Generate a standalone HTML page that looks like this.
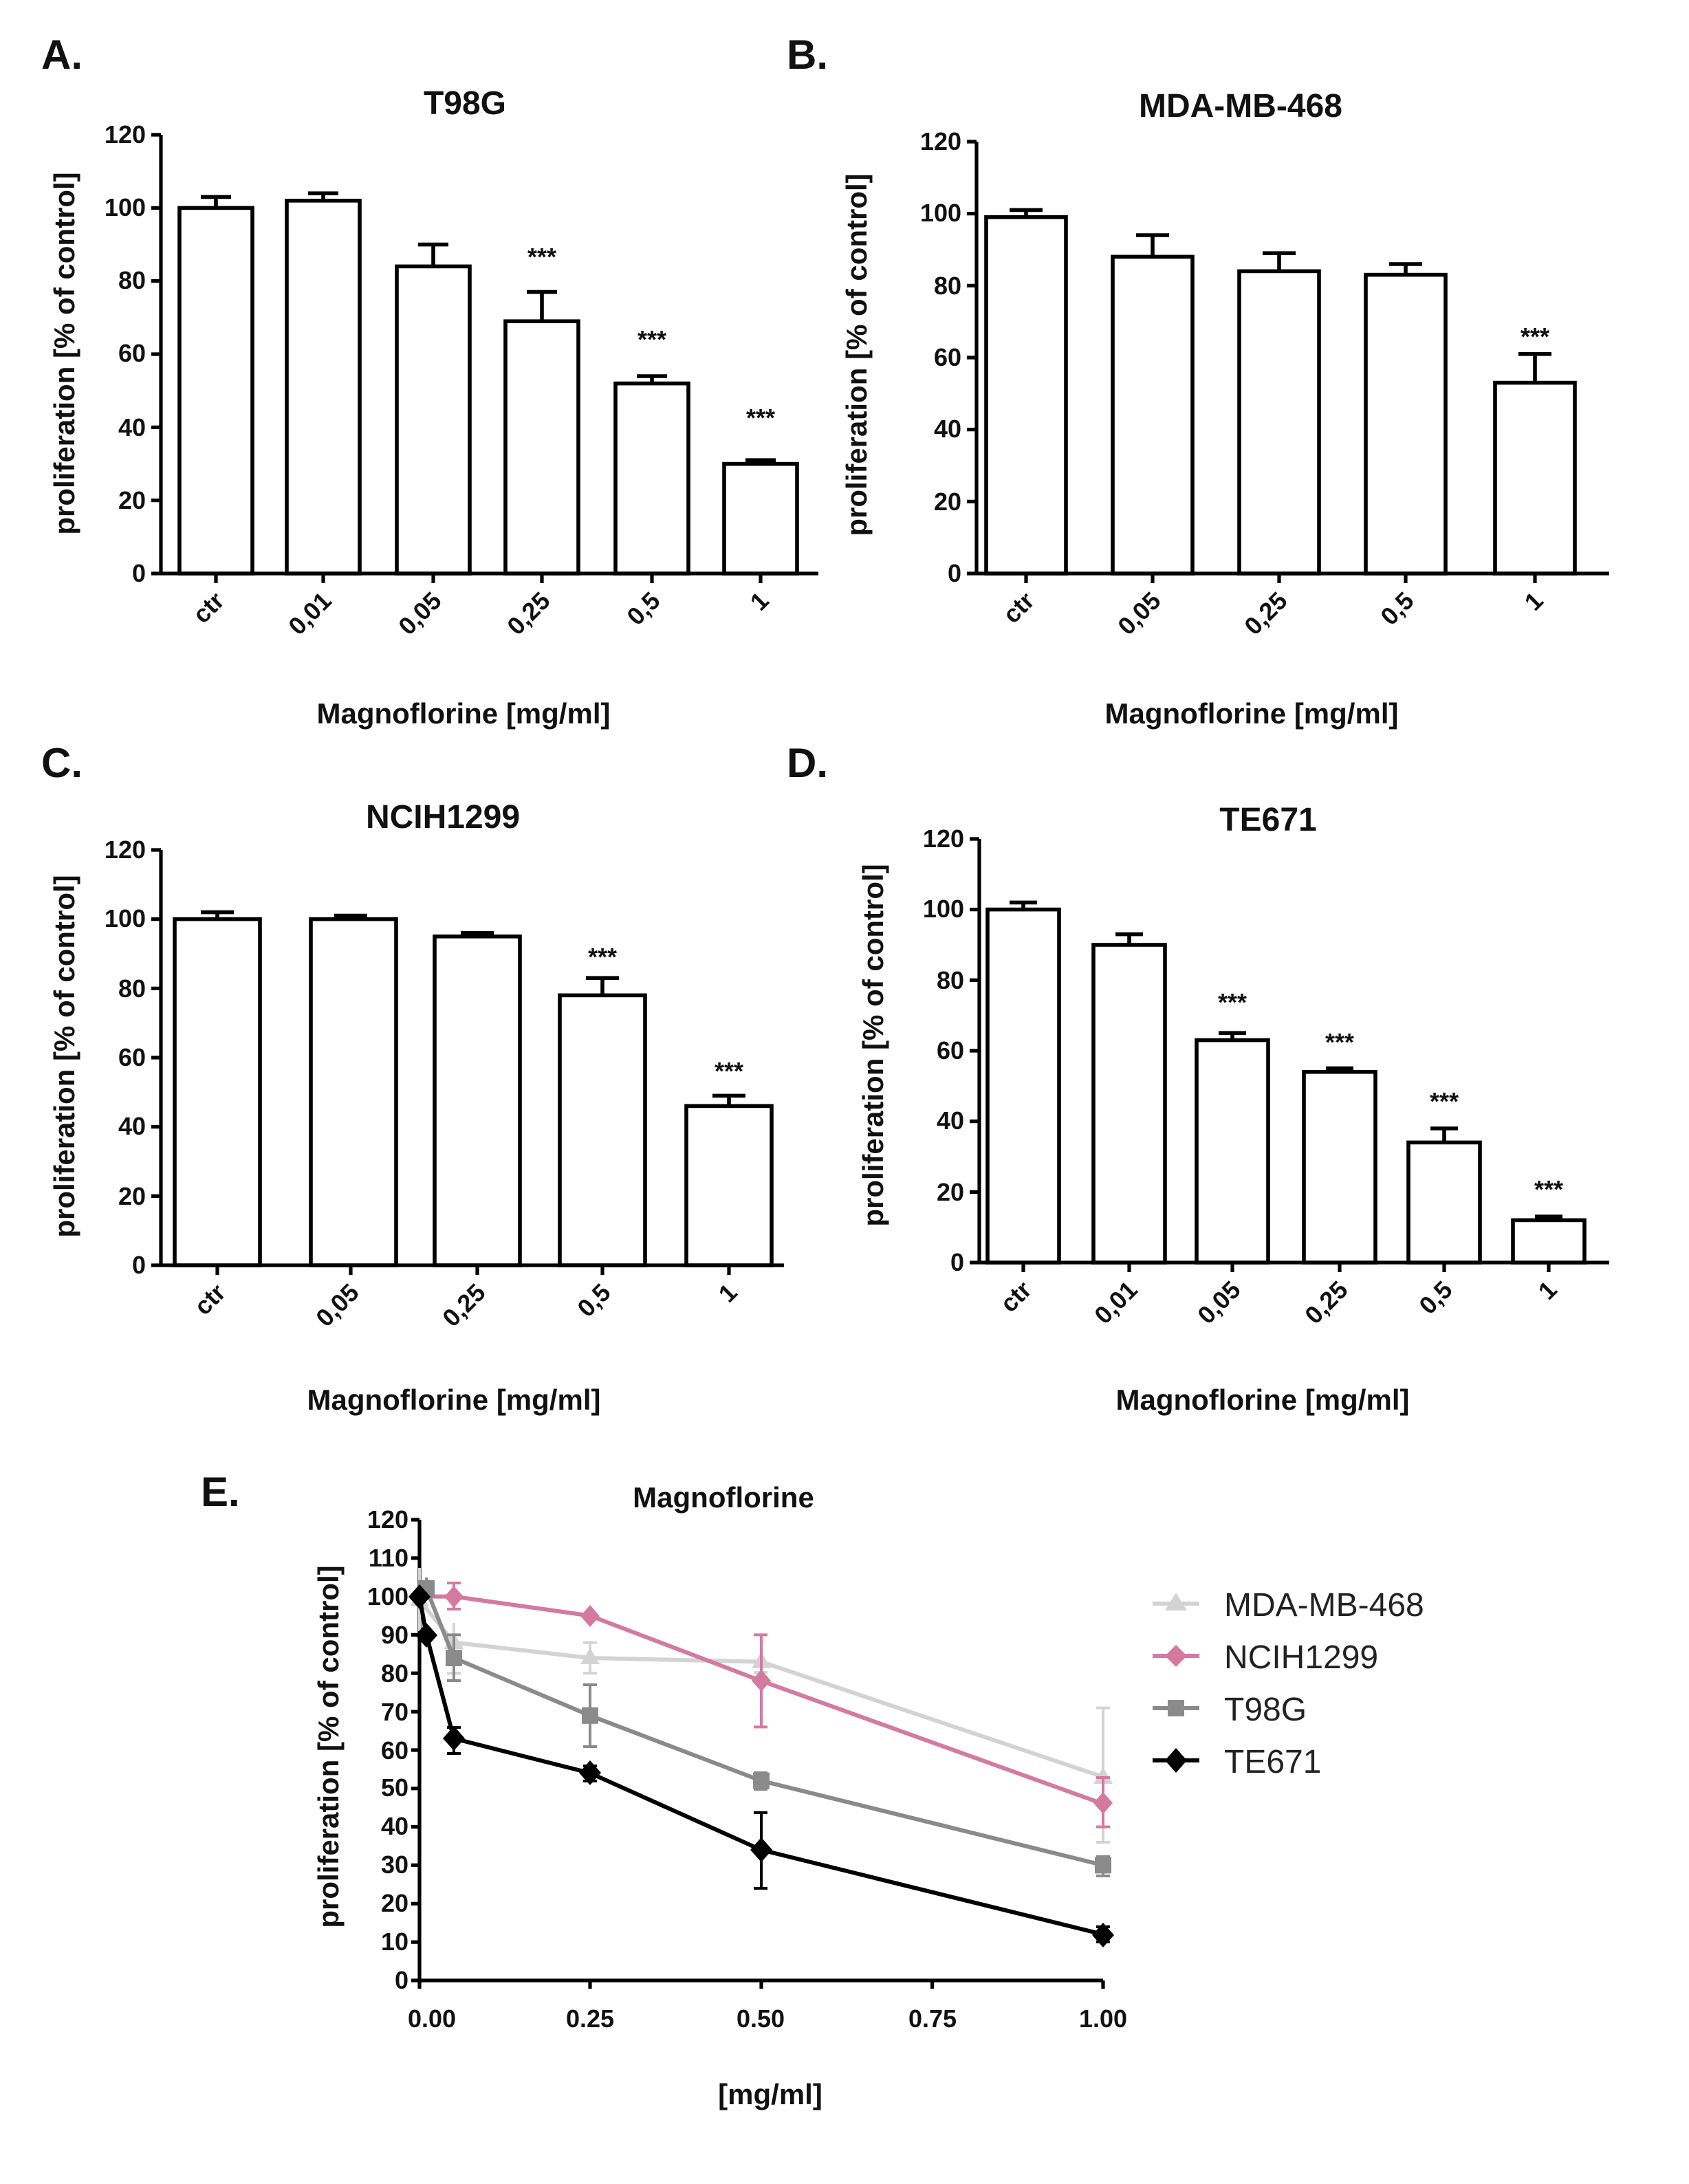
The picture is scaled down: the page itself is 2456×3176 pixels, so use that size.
<!DOCTYPE html>
<html><head><meta charset="utf-8"><style>
html,body{margin:0;padding:0;background:#fff}
svg{display:block}
text{font-family:"Liberation Sans",Arial,sans-serif;font-weight:bold;fill:#111}
.lt{font-size:30px}
.ti{font-size:24px}
.tk{font-size:18px}
.at{font-size:21px}
.st{font-size:18px}
.lg{font-weight:normal;font-size:24px;fill:#222}
.b{fill:#fff;stroke:#000;stroke-width:2.8}
.ax{stroke:#000;stroke-width:2.6;fill:none}
.er{stroke:#000;stroke-width:2.8;fill:none}
</style></head><body>
<svg width="2456" height="3176" viewBox="0 0 1228 1588" xmlns="http://www.w3.org/2000/svg">
<rect width="1228" height="1588" fill="#fff"/>

<!-- Panel A -->
<text class="lt" x="30" y="50">A.</text>
<text class="ti" x="338" y="83" text-anchor="middle">T98G</text>
<text class="at" transform="translate(54,257) rotate(-90)" text-anchor="middle">proliferation [% of control]</text>
<path class="ax" d="M117,98V417H595 M110,98H117 M110,151.2H117 M110,204.3H117 M110,257.5H117 M110,310.7H117 M110,363.8H117 M110,417H117 M157,417v7 M235,417v7 M315,417v7 M394,417v7 M474,417v7 M553,417v7"/>
<g class="tk" text-anchor="end"><text x="106" y="104">120</text><text x="106" y="157">100</text><text x="106" y="210">80</text><text x="106" y="263">60</text><text x="106" y="317">40</text><text x="106" y="370">20</text><text x="106" y="423">0</text></g>
<path class="er" d="M157,151V143.2M146,143.2H168 M235,146V140.6M224,140.6H246 M315,194V177.8M304,177.8H326 M394,234V212.3M383,212.3H405 M474,279V273.5M463,273.5H485 M553,337V334.6M542,334.6H564"/>
<rect class="b" x="130.5" y="151.2" width="53" height="265.8"/>
<rect class="b" x="208.5" y="145.9" width="53" height="271.1"/>
<rect class="b" x="288.5" y="193.7" width="53" height="223.3"/>
<rect class="b" x="367.5" y="233.6" width="53" height="183.4"/>
<rect class="b" x="447.5" y="278.8" width="53" height="138.2"/>
<rect class="b" x="526.5" y="337.3" width="53" height="79.7"/>
<g class="st" text-anchor="middle"><text x="394" y="193">***</text><text x="474" y="253">***</text><text x="553" y="310">***</text></g>
<g class="tk" text-anchor="end"><text transform="translate(164,438) rotate(-45)">ctr</text><text transform="translate(242,438) rotate(-45)">0,01</text><text transform="translate(322,438) rotate(-45)">0,05</text><text transform="translate(401,438) rotate(-45)">0,25</text><text transform="translate(481,438) rotate(-45)">0,5</text><text transform="translate(560,438) rotate(-45)">1</text></g>
<text class="at" x="337" y="526" text-anchor="middle">Magnoflorine [mg/ml]</text>

<!-- Panel B -->
<text class="lt" x="572" y="50">B.</text>
<text class="ti" x="902" y="85" text-anchor="middle">MDA-MB-468</text>
<text class="at" transform="translate(630,258) rotate(-90)" text-anchor="middle">proliferation [% of control]</text>
<path class="ax" d="M710,103V417H1170 M703,103H710 M703,155.3H710 M703,207.7H710 M703,260H710 M703,312.3H710 M703,364.7H710 M703,417H710 M746,417v7 M838,417v7 M930,417v7 M1022,417v7 M1116,417v7"/>
<g class="tk" text-anchor="end"><text x="699" y="109">120</text><text x="699" y="161">100</text><text x="699" y="214">80</text><text x="699" y="266">60</text><text x="699" y="318">40</text><text x="699" y="371">20</text><text x="699" y="423">0</text></g>
<path class="er" d="M746,158V152.7M734,152.7H758 M838,187V171M826,171H850 M930,197V184.1M918,184.1H942 M1022,200V192M1010,192H1034 M1116,278V257.4M1104,257.4H1128"/>
<rect class="b" x="717" y="157.9" width="58" height="259.1"/>
<rect class="b" x="809" y="186.7" width="58" height="230.3"/>
<rect class="b" x="901" y="197.2" width="58" height="219.8"/>
<rect class="b" x="993" y="199.8" width="58" height="217.2"/>
<rect class="b" x="1087" y="278.3" width="58" height="138.7"/>
<text class="st" x="1116" y="251" text-anchor="middle">***</text>
<g class="tk" text-anchor="end"><text transform="translate(753,438) rotate(-45)">ctr</text><text transform="translate(845,438) rotate(-45)">0,05</text><text transform="translate(937,438) rotate(-45)">0,25</text><text transform="translate(1029,438) rotate(-45)">0,5</text><text transform="translate(1123,438) rotate(-45)">1</text></g>
<text class="at" x="910" y="526" text-anchor="middle">Magnoflorine [mg/ml]</text>

<!-- Panel C -->
<text class="lt" x="30" y="565">C.</text>
<text class="ti" x="322" y="602" text-anchor="middle">NCIH1299</text>
<text class="at" transform="translate(54,768) rotate(-90)" text-anchor="middle">proliferation [% of control]</text>
<path class="ax" d="M117,618V920H570 M110,618H117 M110,668.3H117 M110,718.7H117 M110,769H117 M110,819.3H117 M110,869.7H117 M110,920H117 M158,920v7 M255,920v7 M347,920v7 M438,920v7 M530,920v7"/>
<g class="tk" text-anchor="end"><text x="106" y="624">120</text><text x="106" y="674">100</text><text x="106" y="725">80</text><text x="106" y="775">60</text><text x="106" y="825">40</text><text x="106" y="876">20</text><text x="106" y="926">0</text></g>
<path class="er" d="M158,668V663.3M146,663.3H170 M255,668V665.8M243,665.8H267 M347,681V678.4M335,678.4H359 M438,724V711.1M426,711.1H450 M530,804V796.7M518,796.7H542"/>
<rect class="b" x="127" y="668.3" width="62" height="251.7"/>
<rect class="b" x="226" y="668.3" width="62" height="251.7"/>
<rect class="b" x="316" y="680.9" width="62" height="239.1"/>
<rect class="b" x="407" y="723.7" width="62" height="196.3"/>
<rect class="b" x="499" y="804.2" width="62" height="115.8"/>
<g class="st" text-anchor="middle"><text x="438" y="702">***</text><text x="530" y="785">***</text></g>
<g class="tk" text-anchor="end"><text transform="translate(165,941) rotate(-45)">ctr</text><text transform="translate(262,941) rotate(-45)">0,05</text><text transform="translate(354,941) rotate(-45)">0,25</text><text transform="translate(445,941) rotate(-45)">0,5</text><text transform="translate(537,941) rotate(-45)">1</text></g>
<text class="at" x="330" y="1025" text-anchor="middle">Magnoflorine [mg/ml]</text>

<!-- Panel D -->
<text class="lt" x="572" y="565">D.</text>
<text class="ti" x="922" y="604" text-anchor="middle">TE671</text>
<text class="at" transform="translate(642,760) rotate(-90)" text-anchor="middle">proliferation [% of control]</text>
<path class="ax" d="M712,610V918H1170 M705,610H712 M705,661.3H712 M705,712.7H712 M705,764H712 M705,815.3H712 M705,866.7H712 M705,918H712 M744,918v7 M821,918v7 M896,918v7 M974,918v7 M1050,918v7 M1126,918v7"/>
<g class="tk" text-anchor="end"><text x="701" y="616">120</text><text x="701" y="667">100</text><text x="701" y="719">80</text><text x="701" y="770">60</text><text x="701" y="821">40</text><text x="701" y="873">20</text><text x="701" y="924">0</text></g>
<path class="er" d="M744,661V656.2M734,656.2H754 M821,687V679.3M811,679.3H831 M896,756V751.1M886,751.1H906 M974,779V776.8M964,776.8H984 M1050,831V820.5M1040,820.5H1060 M1126,887V884.6M1116,884.6H1136"/>
<rect class="b" x="718" y="661.3" width="52" height="256.7"/>
<rect class="b" x="795" y="687" width="52" height="231"/>
<rect class="b" x="870" y="756.3" width="52" height="161.7"/>
<rect class="b" x="948" y="779.4" width="52" height="138.6"/>
<rect class="b" x="1024" y="830.7" width="52" height="87.3"/>
<rect class="b" x="1100" y="887.2" width="52" height="30.8"/>
<g class="st" text-anchor="middle"><text x="896" y="735">***</text><text x="974" y="764">***</text><text x="1050" y="807">***</text><text x="1126" y="871">***</text></g>
<g class="tk" text-anchor="end"><text transform="translate(751,939) rotate(-45)">ctr</text><text transform="translate(828,939) rotate(-45)">0,01</text><text transform="translate(903,939) rotate(-45)">0,05</text><text transform="translate(981,939) rotate(-45)">0,25</text><text transform="translate(1057,939) rotate(-45)">0,5</text><text transform="translate(1133,939) rotate(-45)">1</text></g>
<text class="at" x="918" y="1025" text-anchor="middle">Magnoflorine [mg/ml]</text>

<!-- Panel E -->
<text class="lt" x="146" y="1095">E.</text>
<text class="at" x="526" y="1096" text-anchor="middle">Magnoflorine</text>
<text class="at" transform="translate(246,1270) rotate(-90)" text-anchor="middle">proliferation [% of control]</text>
<path class="ax" d="M305,1105V1440H802 M299,1105H305 M299,1132.9H305 M299,1160.8H305 M299,1188.7H305 M299,1216.6H305 M299,1244.6H305 M299,1272.5H305 M299,1300.4H305 M299,1328.3H305 M299,1356.2H305 M299,1384.2H305 M299,1412.1H305 M299,1440H305 M305,1440v6 M429,1440v6 M553.5,1440v6 M677.8,1440v6 M802,1440v6"/>
<g class="tk" text-anchor="end"><text x="297" y="1111">120</text><text x="297" y="1139">110</text><text x="297" y="1167">100</text><text x="297" y="1195">90</text><text x="297" y="1223">80</text><text x="297" y="1251">70</text><text x="297" y="1279">60</text><text x="297" y="1306">50</text><text x="297" y="1334">40</text><text x="297" y="1362">30</text><text x="297" y="1390">20</text><text x="297" y="1418">10</text><text x="297" y="1446">0</text></g>
<g class="tk" text-anchor="middle"><text x="314" y="1474">0.00</text><text x="429" y="1474">0.25</text><text x="553" y="1474">0.50</text><text x="678" y="1474">0.75</text><text x="802" y="1474">1.00</text></g>
<text class="at" x="560" y="1530" text-anchor="middle">[mg/ml]</text>
<!-- MDA -->
<g stroke="#d3d3d3" stroke-width="2" fill="none">
<path d="M429,1194.3V1216.6M424,1194.3h10M424,1216.6h10 M802,1241.8V1339.5M797,1241.8h10M797,1339.5h10 M330,1180V1216.6M325,1216.6h10 M553.5,1200V1216M548,1216h10 M305,1140V1186"/>
<polyline stroke-width="3" points="305,1163.6 330,1194.3 429,1205.5 553.5,1208.3 802,1292"/></g>
<g fill="#d3d3d3"><path d="M330,1187l7,12h-14z M429,1198l7,12h-14z M553.5,1201l7,12h-14z M802,1285l7,12h-14z M305,1156l7,12h-14z"/></g>
<!-- NCIH -->
<g stroke="#d4799f" stroke-width="2" fill="none">
<path d="M330,1151V1170M325,1151h10M325,1170h10 M553.5,1188.7V1255.7M548,1188.7h10M548,1255.7h10 M802,1292.5V1328.3M797,1292.5h10M797,1328.3h10"/>
<polyline stroke-width="3" points="305,1160.8 330,1160.8 429,1174.8 553.5,1222.2 802,1311.6"/></g>
<g fill="#d4799f"><path d="M330,1153l7,8-7,8-7-8z M429,1167l7,8-7,8-7-8z M553.5,1214l7,8-7,8-7-8z M802,1303l7,8-7,8-7-8z"/></g>
<!-- T98G -->
<g stroke="#8a8a8a" stroke-width="2" fill="none">
<path d="M330,1188.7V1222M325,1188.7h10M325,1222h10 M429,1225V1270M424,1225h10M424,1270h10 M553.5,1289V1301M548,1289h10M548,1301h10 M802,1350V1364M797,1350h10M797,1364h10 M310,1147V1163"/>
<polyline stroke-width="3" points="305,1160.8 310,1155.2 330,1205.5 429,1247.4 553.5,1294.8 802,1356.2"/></g>
<g fill="#8a8a8a"><rect x="304" y="1149" width="12" height="12"/><rect x="324" y="1199.5" width="12" height="12"/><rect x="423" y="1241.4" width="12" height="12"/><rect x="547.5" y="1288.8" width="12" height="12"/><rect x="796" y="1350.2" width="12" height="12"/></g>
<!-- TE671 -->
<g stroke="#000" stroke-width="2" fill="none">
<path d="M330,1256V1275M325,1256h10M325,1275h10 M429,1284V1295M424,1284h10M424,1295h10 M553.5,1318V1373M548,1318h10M548,1373h10 M802,1401V1412M797,1401h10M797,1412h10"/>
<polyline stroke-width="3" points="305,1160.8 310,1188.7 330,1264.1 429,1289.2 553.5,1345.1 802,1406.5"/></g>
<g fill="#000"><path d="M305,1152l8,9-8,9-8-9z M310,1180l8,9-8,9-8-9z M330,1255l8,9-8,9-8-9z M429,1280l8,9-8,9-8-9z M553.5,1336l8,9-8,9-8-9z M802,1398l8,9-8,9-8-9z"/></g>
<!-- legend -->
<g stroke-width="3"><line x1="838" y1="1166" x2="872" y2="1166" stroke="#d3d3d3"/><line x1="838" y1="1204" x2="872" y2="1204" stroke="#d4799f"/><line x1="838" y1="1242" x2="872" y2="1242" stroke="#8a8a8a"/><line x1="838" y1="1280" x2="872" y2="1280" stroke="#000"/></g>
<path d="M855,1158l8,13h-16z" fill="#d3d3d3"/><path d="M855,1196l8,8-8,8-8-8z" fill="#d4799f"/><rect x="849" y="1236" width="12" height="12" fill="#8a8a8a"/><path d="M855,1271l8,9-8,9-8-9z" fill="#000"/>
<text class="lg" x="890" y="1175">MDA-MB-468</text><text class="lg" x="890" y="1213">NCIH1299</text><text class="lg" x="890" y="1251">T98G</text><text class="lg" x="890" y="1289">TE671</text>
</svg>
</body></html>
